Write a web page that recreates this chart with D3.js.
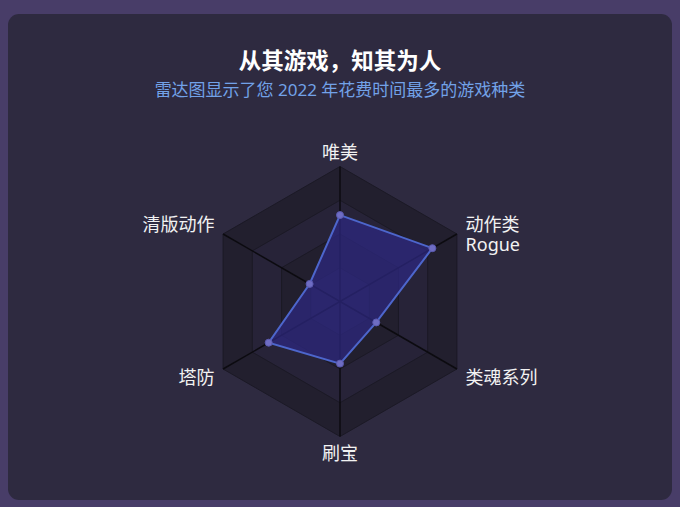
<!DOCTYPE html>
<html>
<head>
<meta charset="utf-8">
<script src="https://cdn.jsdelivr.net/npm/d3@7"></script>
<style>
  html, body { margin: 0; padding: 0; background: #483d68; }
  svg { display: block; font-family: "Noto Sans", "Noto Sans CJK SC", sans-serif; }
</style>
</head>
<body>
<svg id="chart"></svg>
<script>
// data
const indicators = ['唯美', '动作类\nRogue', '类魂系列', '刷宝', '塔防', '清版动作'];
const playValues = [64, 79, 31, 46, 61, 26];
const maxValue = 100;
const ringLevels = [0.25, 0.5, 0.75, 1];

const width = 680, height = 507;
const cx = 340, cy = 301.5, radius = 135;

const svg = d3.select('#chart').attr('width', width).attr('height', height);

// card
svg.append('rect')
  .attr('x', 8).attr('y', 14)
  .attr('width', 664).attr('height', 486)
  .attr('rx', 11)
  .attr('fill', '#2e2a40');

// titles
svg.append('text')
  .attr('x', cx).attr('y', 69)
  .attr('text-anchor', 'middle')
  .attr('fill', '#ffffff')
  .attr('font-size', 22.5)
  .attr('font-weight', 'bold')
  .text('从其游戏，知其为人');
svg.append('text')
  .attr('x', cx).attr('y', 96)
  .attr('text-anchor', 'middle')
  .attr('fill', '#72a2e8')
  .attr('font-size', 17)
  .text('雷达图显示了您 2022 年花费时间最多的游戏种类');

const angle = d3.scaleLinear().domain([0, indicators.length]).range([0, 2 * Math.PI]);
const r = d3.scaleLinear().domain([0, maxValue]).range([0, radius]);
const pt = (i, v) => [cx + Math.sin(angle(i)) * v, cy - Math.cos(angle(i)) * v];

const g = svg.append('g');

// split areas, drawn as rings from outside in
const bandColors = ['#221f2e', '#272338', '#221f2e', '#272338'];
const ringPath = lv => {
  const pts = indicators.map((d, i) => pt(i, radius * lv));
  return 'M' + pts.join('L') + 'Z';
};
ringLevels.slice().reverse().forEach((lv, k) => {
  g.append('path')
    .attr('d', ringPath(lv))
    .attr('fill', bandColors[k])
    .attr('stroke', '#1b1925')
    .attr('stroke-width', 1);
});

// axis lines
indicators.forEach((d, i) => {
  const [x, y] = pt(i, radius);
  g.append('line')
    .attr('x1', cx).attr('y1', cy)
    .attr('x2', x).attr('y2', y)
    .attr('stroke', '#0c0b10')
    .attr('stroke-width', 1.5);
});

// series
const line = d3.lineRadial()
  .angle((d, i) => angle(i))
  .radius(d => r(d))
  .curve(d3.curveLinearClosed);
g.append('path')
  .attr('transform', `translate(${cx},${cy})`)
  .attr('d', line(playValues))
  .attr('fill', 'rgba(46, 40, 130, 0.72)')
  .attr('stroke', '#4d66cc')
  .attr('stroke-width', 2);

g.selectAll('circle.pt')
  .data(playValues)
  .enter().append('circle')
  .attr('class', 'pt')
  .attr('cx', (d, i) => pt(i, r(d))[0])
  .attr('cy', (d, i) => pt(i, r(d))[1])
  .attr('r', 3.5)
  .attr('fill', '#6f6dc4')
  .attr('stroke', '#5b5ab0');

// indicator labels
indicators.forEach((name, i) => {
  const a = angle(i);
  const s = Math.sin(a), c = Math.cos(a);
  const x = pt(i, radius + 10)[0];
  let anchor = 'middle';
  if (s > 0.1) anchor = 'start';
  else if (s < -0.1) anchor = 'end';
  let ty = pt(i, radius + 18)[1] + 6;
  if (Math.abs(s) < 0.1) ty = c > 0 ? cy - radius - 8 : cy + radius + 23;
  const t = svg.append('text')
    .attr('x', x)
    .attr('y', ty)
    .attr('text-anchor', anchor)
    .attr('fill', '#f2f2f2')
    .attr('font-size', 18);
  name.split('\n').forEach((l, k) => {
    t.append('tspan').attr('x', x).attr('dy', k === 0 ? 0 : 20).text(l);
  });
});
</script>
</body>
</html>
